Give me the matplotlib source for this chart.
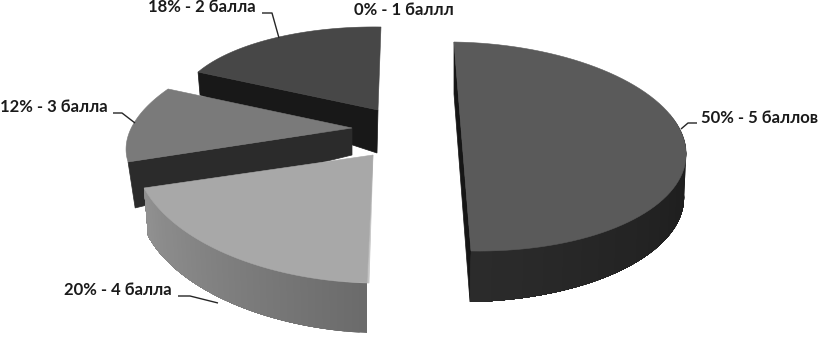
import numpy as np
from matplotlib import pyplot as plt
from matplotlib.patches import Polygon

plt.rcParams['font.family'] = ['Lato', 'Open Sans', 'DejaVu Sans']

# shares in percent, clockwise from the top of the pie
grades = ['5 баллов', '4 балла', '3 балла', '2 балла', '1 баллл']
shares = [50, 20, 12, 18, 0]

label_left = [701, 64, 0, 148, 354]
label_mid = [118, 290, 107, 7, 10]

# leader lines for the labels, in pixels
leaders = [[(697, 123), (688, 123), (681, 129)],
           [(178, 296), (190, 296), (218, 303)],
           [(113, 113), (122, 113), (135, 123)],
           [(262, 13), (272, 13), (279, 38)]]

# every slice has its own perspective: centre and conjugate axes of top and bottom ellipse
top_c = [(462.5, 146.5), (373, 155), (352, 128), (378, 110)]
top_u = [(223.5, 3.5), (238.8, 6.9), (222.3, -3.5), (200.3, 2.9)]
top_v = [(-8.5, -104.5), (6, -128), (40.5, -99.1), (3, -83)]
bot_c = [(462, 198), (373, 208), (352, 155), (377, 153)]
bot_u = [(222, -4), (234.6, 11.1), (215, -24.8), (197, 25)]
bot_v = [(-8, -104), (6, -125), (40, -95), (3, -83)]

top_col = ['#5a5a5a', '#a8a8a8', '#7a7a7a', '#474747']
face_col = ['#161616', '#c4c4c4', '#2b2b2b', '#181818']
# grey level of the rim at the start and the end of its sweep
side_from = [0.10, 0.42, None, None]
side_to = [0.17, 0.57, None, None]
side_start = [70, 180, None, None]


def ell(c, u, v, deg):
    t = np.radians(deg)
    return np.column_stack([c[0] + np.sin(t) * u[0] + np.cos(t) * v[0],
                            c[1] + np.sin(t) * u[1] + np.cos(t) * v[1]])


fig = plt.figure(figsize=(8.2, 3.45), dpi=100)
ax = fig.add_axes([0, 0, 1, 1])
ax.set_xlim(0, 820)
ax.set_ylim(345, 0)
ax.axis('off')

edges = np.concatenate([[0], np.cumsum(shares)]) * 3.6

# back slices first
for i in [3, 2, 1, 0]:
    a0, a1 = edges[i], edges[i + 1]
    ts = np.linspace(a0, a1, 80)

    # flat cut faces
    if i == 0:
        face = np.vstack([ell(top_c[i], top_u[i], top_v[i], [a0]), ell(bot_c[i], bot_u[i], bot_v[i], [a0]),
                          ell(bot_c[i], bot_u[i], bot_v[i], [a1]), ell(top_c[i], top_u[i], top_v[i], [a1])])
    elif i == 1:
        face = np.vstack([[top_c[i]], ell(top_c[i], top_u[i], top_v[i], [a0]),
                          ell(top_c[i], top_u[i], top_v[i], [a0]) + (2, 0)])
    else:
        face = np.vstack([[top_c[i]], ell(top_c[i], top_u[i], top_v[i], [a0]),
                          ell(bot_c[i], bot_u[i], bot_v[i], [a0]), [bot_c[i]]])
    ax.add_patch(Polygon(face, closed=True, fc=face_col[i], ec=face_col[i], lw=0.5))

    # outer rim: each band runs on to the end of the rim so no seams show
    if side_start[i] is not None:
        st = np.linspace(side_start[i], a1, 41)
        up = ell(top_c[i], top_u[i], top_v[i], st)
        lo = ell(bot_c[i], bot_u[i], bot_v[i], st)
        for k in range(len(st) - 1):
            f = k / (len(st) - 2)
            g = side_from[i] + (side_to[i] - side_from[i]) * f
            band = np.vstack([up[k:], lo[k:][::-1]])
            ax.add_patch(Polygon(band, closed=True, fc=(g, g, g), ec='none'))

    # top surface
    rim = ell(top_c[i], top_u[i], top_v[i], ts)
    ax.add_patch(Polygon(np.vstack([[top_c[i]], rim]), closed=True,
                         fc=top_col[i], ec=top_col[i], lw=0.4))

for pts in leaders:
    xs, ys = zip(*pts)
    ax.plot(xs, ys, color='#262626', lw=1, solid_capstyle='butt')

for g, s, x, y in zip(grades, shares, label_left, label_mid):
    ax.text(x, y, '%d%% - %s' % (s, g), ha='left', va='center', fontsize=12,
            fontweight='bold', color='#1a1a1a')

fig.savefig('out.png', dpi=100)
